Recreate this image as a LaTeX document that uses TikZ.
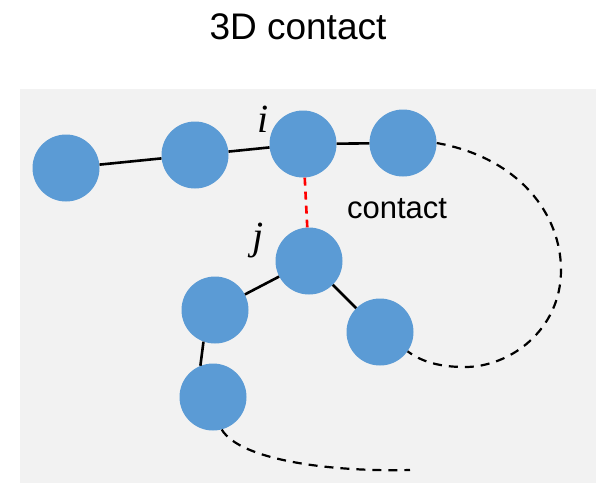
\documentclass[tikz,border=0pt]{standalone}
\usepackage{fontspec}
\setmainfont{Liberation Sans}
\newfontfamily\labelserif{Liberation Serif}
\usepackage{tikz}
\definecolor{beadblue}{RGB}{91,155,213}
\definecolor{panelgray}{RGB}{242,242,242}
\tikzset{
  bead/.style={circle, fill=beadblue, minimum size=67pt, inner sep=0pt},
  beadlabel/.style={font=\labelserif\itshape\fontsize{40}{42}\selectfont, inner sep=0pt},
  bond/.style={line width=2.6pt, black},
  loosechain/.style={line width=2.2pt, black, dash pattern=on 9pt off 7pt},
  contactbond/.style={line width=2.6pt, red, dash pattern=on 8pt off 6pt}
}
\begin{document}
\begin{tikzpicture}[x=1pt,y=-1pt]
\useasboundingbox (0,0) rectangle (596,483);
\fill[panelgray] (20,89) rectangle (596,483);

\node (title) at (298,27) {\fontsize{37}{40}\selectfont 3D contact};

\node[bead] (b1) at (66,168) {};
\node[bead] (b2) at (195,155) {};
\node[bead] (bi) at (303,144) {};
\node[bead] (b4) at (403,143) {};
\node[bead] (bj) at (309,261) {};
\node[bead] (bl) at (215,310) {};
\node[bead] (br) at (380,332) {};
\node[bead] (bb) at (213,397) {};

\node[beadlabel] (li) at (263,119) {i};
\node[beadlabel] (lj) at (258,241) {j};
\node (lc) at (397,209) {\fontsize{31}{34}\selectfont contact};

\draw[bond] (b1) -- (b2);
\draw[bond] (b2) -- (bi);
\draw[bond] (bi) -- (b4);
\draw[bond] (bj) -- (bl);
\draw[bond] (bj) -- (br);
\draw[bond] (bl.-110) -- (bb.112);
\draw[contactbond] (bi) -- (bj);
\draw[loosechain] (b4.east) .. controls (520,158) and (561,215) .. (561,270)
  .. controls (561,330) and (510,367) .. (465,367)
  .. controls (440,367) and (422,362) .. (br.-35);
\draw[loosechain] (bb.-75) .. controls (240,460) and (330,472) .. (410,470);
\end{tikzpicture}
\end{document}
